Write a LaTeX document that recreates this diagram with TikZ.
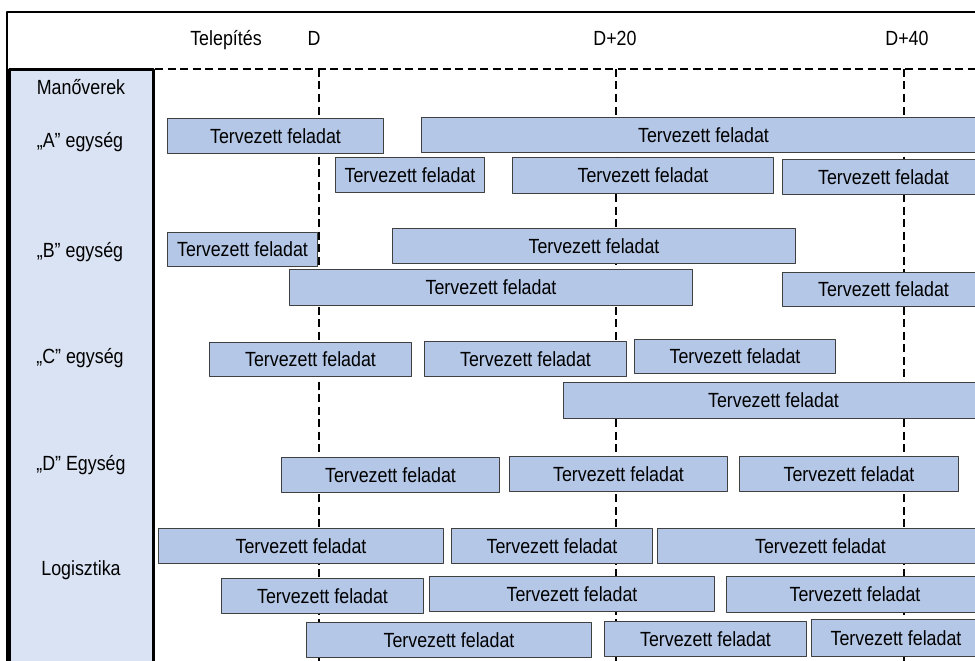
\documentclass[tikz,border=0pt]{standalone}
\usepackage{fontspec}
\setmainfont{Liberation Sans}[FakeStretch=0.87]
\definecolor{taskblue}{HTML}{B4C7E7}
\definecolor{panelblue}{HTML}{DAE3F3}
\definecolor{taskline}{HTML}{404040}
\tikzset{
  task/.style={draw=taskline,fill=taskblue,line width=1pt,inner sep=0pt,anchor=north west},
  unit/.style={anchor=base},
  dayline/.style={line width=2.6pt,dash pattern=on 8pt off 4.5pt}
}
\begin{document}
\begin{tikzpicture}[x=1pt,y=-1pt,line join=round,font=\fontsize{20.5}{24}\selectfont]
  \useasboundingbox (0,0) rectangle (975,661);
  \clip (0,0) rectangle (975,661);
  % frame and unit panel
  \draw[line width=2.2pt] (7,661)--(7,12)--(976,12);
  \draw[line width=3pt,fill=panelblue] (9,663)--(9,69.5)--(153.5,69.5)--(153.5,663);
  \draw[dayline] (155,69)--(976,69);
  % day lines
  \coordinate (d0) at (319,69);
  \coordinate (d20) at (616,69);
  \coordinate (d40) at (904,69);
  \foreach \c in {d0,d20,d40}
    \draw[dayline] (\c)--++(0,600);
  % header
  \node[unit] (telep) at (226,46) {Telepítés};
  \node[unit] (hd0) at (314,46) {D};
  \node[unit] (hd20) at (615,46) {D+20};
  \node[unit] (hd40) at (907,46) {D+40};
  % row labels
  \node[unit] (man) at (81,95) {Manőverek};
  \node[unit] (ua) at (80,147) {„A” egység};
  \node[unit] (ub) at (80,257) {„B” egység};
  \node[unit] (uc) at (80,363) {„C” egység};
  \node[unit] (ud) at (81,470) {„D” Egység};
  \node[unit] (log) at (81,575) {Logisztika};
  % planned tasks: name/left/right/top/bottom
  \foreach \n/\xa/\xb/\ya/\yb in {
      aa/167/383/118/153, ab/421/985/117/152,
      ac/335/484/157/192, ad/512/773/157/193, ae/782/984/159/194,
      ba/167/317/232/266, bb/392/795/228/263,
      bc/289/692/269/305, bd/782/984/272/306,
      ca/209/411/342/376, cb/424/626/341/376, cc/634/835/339/373,
      cd/563/983/382/418,
      da/281/499/457/492, db/509/727/456/491, dc/739/958/456/491,
      la/158/443/528/563, lb/451/652/528/563, lc/657/983/528/563,
      ld/221/423/578/613, le/429/714/576/611, lf/726/983/576/612,
      lg/306/591/622/657, lh/604/806/621/656, li/811/980/619/656}
    \node[task,minimum width={(\xb-\xa)*1pt},minimum height={(\yb-\ya)*1pt}] (\n) at (\xa,\ya) {Tervezett feladat};
\end{tikzpicture}
\end{document}
